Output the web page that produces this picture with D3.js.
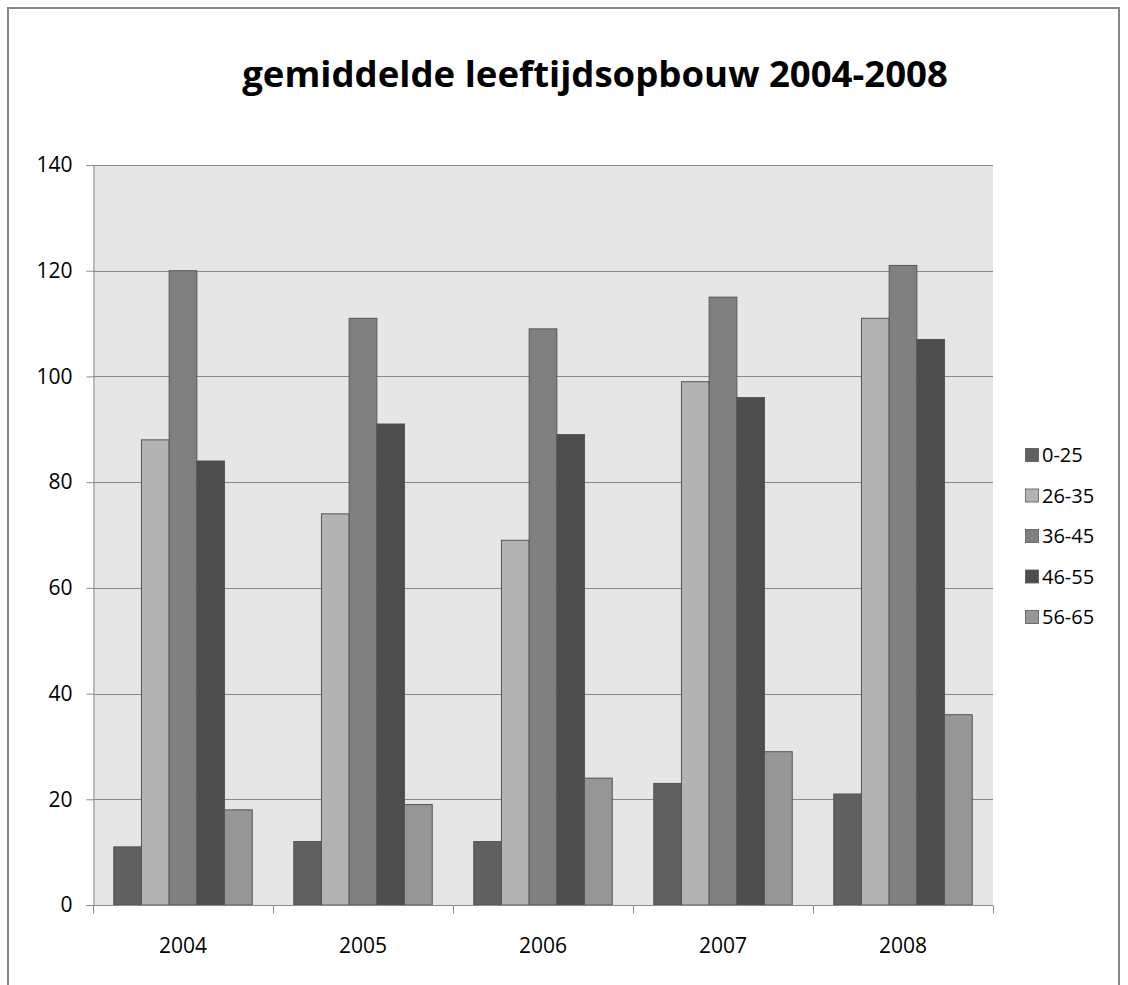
<!DOCTYPE html>
<html>
<head>
<meta charset="utf-8">
<script src="https://cdn.jsdelivr.net/npm/d3@7"></script>
<style>
  html, body { margin: 0; padding: 0; background: #fff; }
  svg { display: block; }
  text { font-family: "Open Sans", "Liberation Sans", sans-serif; fill: #000; }
</style>
</head>
<body>
<svg id="chart" width="1128" height="985"></svg>
<script>
// Average age structure per year, 2004–2008
const years = ["2004", "2005", "2006", "2007", "2008"];
const groups = ["0-25", "26-35", "36-45", "46-55", "56-65"];
const values0to25  = [11, 12, 12, 23, 21];
const values26to35 = [88, 74, 69, 99, 111];
const values36to45 = [120, 111, 109, 115, 121];
const values46to55 = [84, 91, 89, 96, 107];
const values56to65 = [18, 19, 24, 29, 36];
const yTicks = [0, 20, 40, 60, 80, 100, 120, 140];
const title = "gemiddelde leeftijdsopbouw 2004-2008";

const seriesValues = [values0to25, values26to35, values36to45, values46to55, values56to65];
const fills = ["#606060", "#b3b3b3", "#808080", "#4d4d4d", "#969696"];

const svg = d3.select("#chart");

// outer chart frame
svg.append("rect")
  .attr("x", 8).attr("y", 8).attr("width", 1111).attr("height", 1000)
  .attr("fill", "#fff").attr("stroke", "#878787").attr("stroke-width", 2);

const plot = { left: 93, right: 993, top: 165, bottom: 905 };

const x = d3.scaleBand().domain(years).range([plot.left, plot.right]);
const groupWidth = x.bandwidth();
// five bars per year with a 150% gap width split over both sides
const barW = groupWidth / (groups.length + 1.5);
const sub = d3.scaleBand().domain(groups)
  .range([barW * 0.75, barW * 0.75 + barW * groups.length]);

const y = d3.scaleLinear().domain([0, 140]).range([plot.bottom, plot.top]);

// plot background
svg.append("rect")
  .attr("x", plot.left).attr("y", plot.top)
  .attr("width", plot.right - plot.left).attr("height", plot.bottom - plot.top)
  .attr("fill", "#e6e6e6");

// gridlines
svg.append("g")
  .selectAll("line")
  .data(yTicks.filter(d => d > 0))
  .join("line")
  .attr("x1", plot.left).attr("x2", plot.right)
  .attr("y1", d => Math.round(y(d)) + 0.5).attr("y2", d => Math.round(y(d)) + 0.5)
  .attr("stroke", "#8a8a8a").attr("stroke-width", 1);

// bars
const rows = years.map((yr, i) => ({ year: yr, vals: groups.map((g, k) => ({ group: g, k, v: seriesValues[k][i] })) }));
const yearG = svg.append("g").selectAll("g")
  .data(rows).join("g")
  .attr("transform", d => `translate(${x(d.year)},0)`);
yearG.selectAll("rect")
  .data(d => d.vals)
  .join("rect")
  .attr("x", d => sub(d.group))
  .attr("width", sub.bandwidth())
  .attr("y", d => y(d.v))
  .attr("height", d => y(0) - y(d.v))
  .attr("fill", d => fills[d.k])
  .attr("stroke", "#555555").attr("stroke-width", 1);

// y axis
const yAxis = d3.axisLeft(y).tickValues(yTicks).tickSize(7).tickPadding(14);
const yg = svg.append("g").attr("transform", `translate(${plot.left + 0.5},0)`).call(yAxis);
yg.select(".domain").attr("stroke", "#8a8a8a");
yg.selectAll(".tick line").attr("stroke", "#8a8a8a");
yg.selectAll(".tick text").attr("font-size", 21).attr("font-family", "'Open Sans', sans-serif").attr("fill", "#000");

// x axis with ticks at category boundaries
const xg = svg.append("g").attr("transform", `translate(0,${plot.bottom + 0.5})`);
xg.append("line").attr("x1", plot.left).attr("x2", plot.right)
  .attr("stroke", "#8a8a8a");
const bounds = years.map(d => x(d)).concat([plot.right]);
xg.selectAll("line.tk").data(bounds).join("line").attr("class", "tk")
  .attr("x1", d => Math.round(d) + 0.5).attr("x2", d => Math.round(d) + 0.5)
  .attr("y1", 0).attr("y2", 8).attr("stroke", "#8a8a8a");
xg.selectAll("text").data(years).join("text")
  .attr("x", d => x(d) + groupWidth / 2)
  .attr("y", 47)
  .attr("text-anchor", "middle")
  .attr("font-size", 21)
  .text(d => d);

// title, sized to its measured width
const t = svg.append("text")
  .attr("x", 595).attr("y", 87)
  .attr("text-anchor", "middle")
  .attr("font-weight", "bold")
  .attr("font-size", 36)
  .text(title);
const w = t.node().getComputedTextLength();
t.attr("font-size", 36 * 706 / w);

// legend
const legend = svg.append("g").attr("transform", "translate(1025,448)");
const items = legend.selectAll("g").data(groups).join("g")
  .attr("transform", (d, i) => `translate(0,${i * 40.5})`);
items.append("rect")
  .attr("x", 0.5).attr("y", 0.5).attr("width", 13).attr("height", 13)
  .attr("fill", (d, i) => fills[i]).attr("stroke", "#555").attr("stroke-width", 0.8);
items.append("text")
  .attr("x", 17).attr("y", 14)
  .attr("font-size", 20)
  .text(d => d);
</script>
</body>
</html>
